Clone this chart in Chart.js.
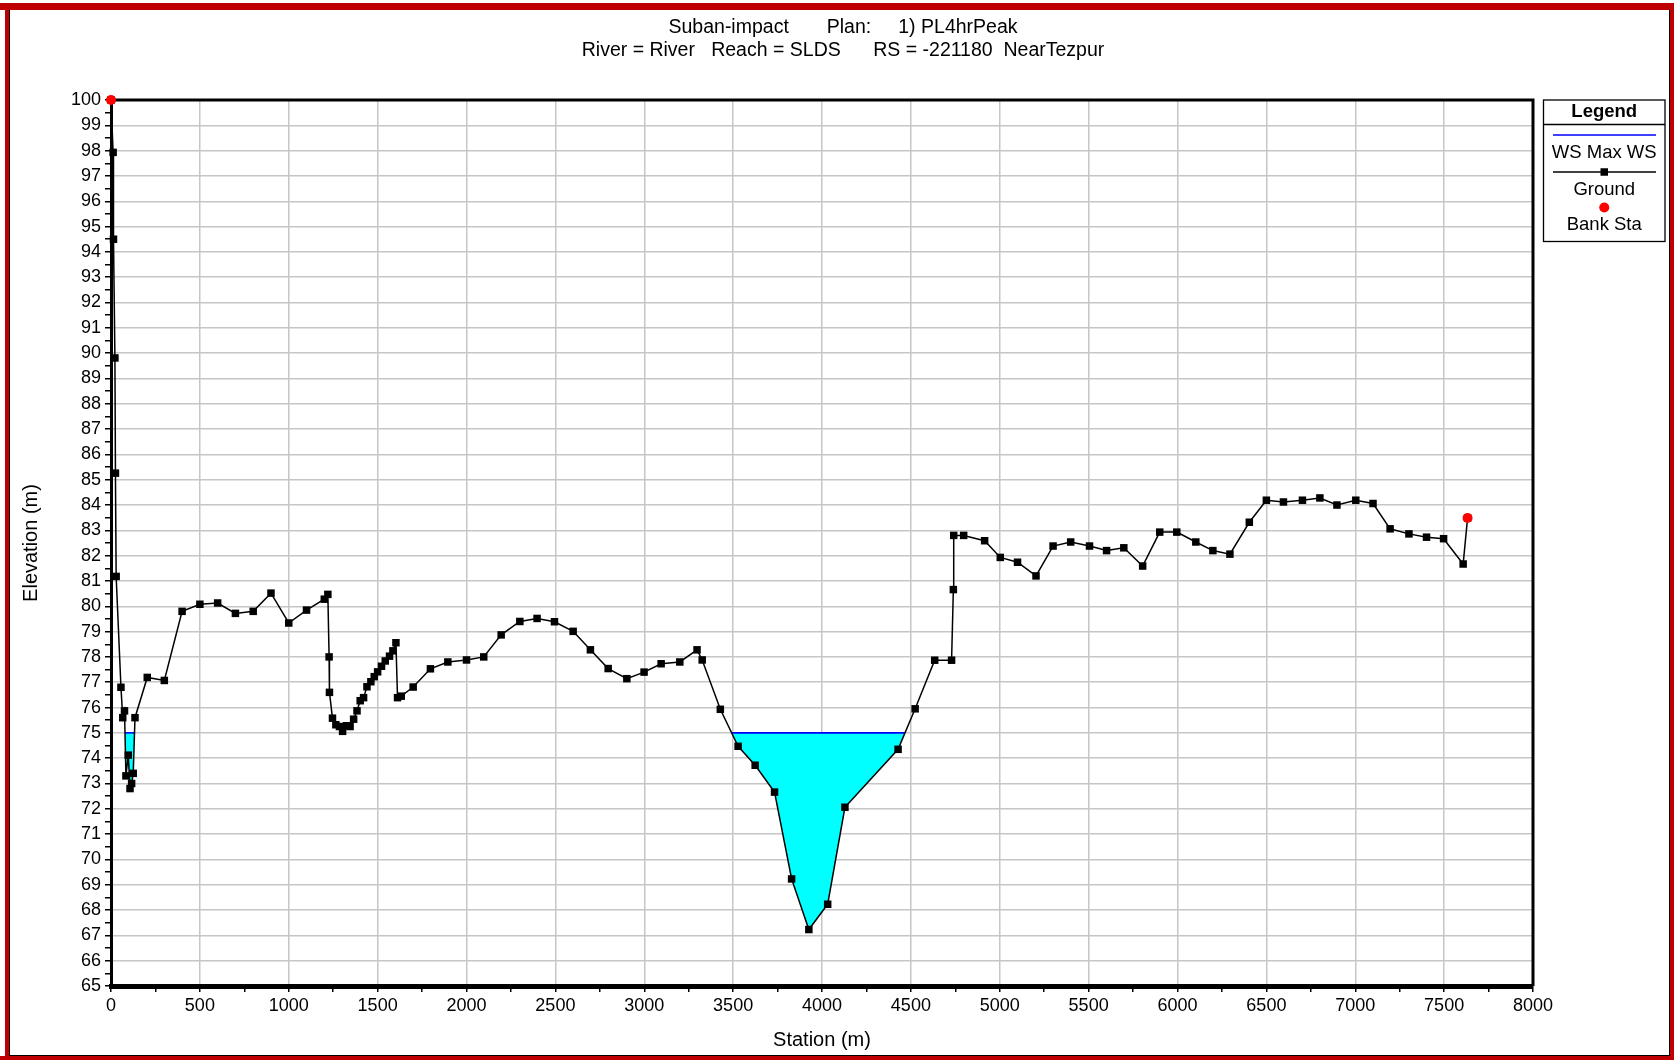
<!DOCTYPE html>
<html>
<head>
<meta charset="utf-8">
<script src="https://cdn.jsdelivr.net/npm/chart.js@4.4.0/dist/chart.umd.min.js"></script>
<style>
html,body{margin:0;padding:0;background:#fff;overflow:hidden}
canvas{display:block}
</style>
</head>
<body>
<canvas id="c" width="1674" height="1060"></canvas>
<script>
// ---------------- DATA ----------------
const titleLines = [
  'Suban-impact       Plan:     1) PL4hrPeak',
  'River = River   Reach = SLDS      RS = -221180  NearTezpur'
];
const xAxisTitle = 'Station (m)';
const yAxisTitle = 'Elevation (m)';
const legendTitle = 'Legend';
const legendLabels = ['WS Max WS', 'Ground', 'Bank Sta'];

const groundStations = [
  0, 12, 14, 22, 25, 29, 56, 66, 76, 84, 97, 107, 116, 125, 135, 204, 300, 400, 500, 600,
  700, 800, 900, 1000, 1100, 1200, 1220, 1227, 1229, 1246, 1265, 1285, 1303, 1325, 1345, 1365,
  1384, 1402, 1421, 1440, 1462, 1481, 1500, 1522, 1543, 1567, 1586, 1603, 1612, 1633, 1700,
  1797, 1895, 2000, 2097, 2195, 2300, 2397, 2495, 2600, 2697, 2797, 2902, 2999, 3095, 3200,
  3297, 3326, 3428, 3528, 3624, 3733, 3829, 3926, 4032, 4129, 4428, 4524, 4634, 4729, 4739,
  4741, 4797, 4915, 5003, 5100, 5204, 5300, 5399, 5505, 5601, 5698, 5804, 5900, 5996, 6103,
  6199, 6295, 6404, 6500, 6596, 6703, 6801, 6897, 7003, 7100, 7196, 7302, 7401, 7497, 7607, 7632
];
const groundElevations = [
  100, 97.93, 94.5, 89.81, 85.26, 81.18, 76.8, 75.6, 75.87, 73.3, 74.12, 72.8, 73.0, 73.4, 75.6, 77.19, 77.07, 79.8, 80.08, 80.13,
  79.72, 79.8, 80.52, 79.34, 79.85, 80.28, 80.47, 78.0, 76.6, 75.58, 75.32, 75.25, 75.06, 75.28, 75.25, 75.54,
  75.87, 76.27, 76.39, 76.82, 77.02, 77.22, 77.41, 77.63, 77.84, 78.03, 78.24, 78.56, 76.39, 76.45, 76.81,
  77.53, 77.8, 77.88, 78.0, 78.87, 79.4, 79.52, 79.39, 79.01, 78.28, 77.54, 77.14, 77.4, 77.73, 77.8,
  78.28, 77.88, 75.93, 74.47, 73.72, 72.66, 69.23, 67.23, 68.23, 72.06, 74.35, 75.95, 77.87, 77.87, 80.66,
  82.8, 82.8, 82.59, 81.93, 81.74, 81.2, 82.38, 82.54, 82.38, 82.2, 82.31, 81.59, 82.93, 82.93, 82.54,
  82.2, 82.06, 83.32, 84.19, 84.12, 84.19, 84.28, 84.0, 84.19, 84.06, 83.06, 82.86, 82.73, 82.67, 81.67, 83.49
];
const bankStations = [0, 7632];
const bankElevations = [100, 83.49];
const wsMaxElevation = 75.0;

const xMin = 0, xMax = 8000, xMajorStep = 500, xMinorStep = 250;
const yMin = 65, yMax = 100, yMajorStep = 1, yMinorStep = 0.5;

// ---------------- BUILD ----------------
const FONT = "'Liberation Sans', Arial, Helvetica, sans-serif";
Chart.defaults.font.family = FONT;
Chart.defaults.color = '#000';

const groundPts = groundStations.map((s, i) => ({x: s, y: groundElevations[i]}));
const bankPts = bankStations.map((s, i) => ({x: s, y: bankElevations[i]}));

function waterRegions(st, el, ws) {
  const regions = [];
  let cur = null;
  for (let i = 0; i < st.length; i++) {
    const below = el[i] < ws;
    if (below && !cur && i > 0) {
      const t = (el[i - 1] - ws) / (el[i - 1] - el[i]);
      cur = [{x: st[i - 1] + t * (st[i] - st[i - 1]), y: ws}];
    }
    if (below && cur) cur.push({x: st[i], y: el[i]});
    if (!below && cur) {
      const t = (ws - el[i - 1]) / (el[i] - el[i - 1]);
      cur.push({x: st[i - 1] + t * (st[i] - st[i - 1]), y: ws});
      regions.push(cur);
      cur = null;
    }
  }
  return regions;
}
const regions = waterRegions(groundStations, groundElevations, wsMaxElevation);

const datasets = [
  {label: 'Bank Sta', data: bankPts, showLine: false, pointStyle: 'circle', pointRadius: 5,
   pointBackgroundColor: '#ff0000', pointBorderColor: '#ff0000', pointBorderWidth: 0, clip: false},
  {label: 'Ground', data: groundPts, showLine: true, borderColor: '#000', borderWidth: 1.5,
   pointStyle: 'rect', pointRadius: 5.3, pointBackgroundColor: '#000', pointBorderWidth: 0,
   fill: false, tension: 0, clip: false},
  ...regions.map(r => ({label: 'WS Max WS', data: [r[0], r[r.length - 1]], showLine: true,
   borderColor: '#0000ff', borderWidth: 1.6, pointRadius: 0, fill: false})),
  ...regions.map(r => ({label: 'water', data: r, showLine: true, borderColor: 'rgba(0,0,0,0)',
   borderWidth: 0, backgroundColor: '#00ffff', fill: 'shape', pointRadius: 0}))
];

const isMult = (v, step) => Math.abs(v / step - Math.round(v / step)) < 1e-9;

const decorPlugin = {
  id: 'decor',
  beforeDraw(chart) {
    const ctx = chart.ctx;
    ctx.save();
    ctx.fillStyle = '#fff';
    ctx.fillRect(0, 0, chart.width, chart.height);
    ctx.restore();
  },
  beforeDatasetsDraw(chart) {
    const {ctx, chartArea: a} = chart;
    ctx.save();
    ctx.strokeStyle = '#000';
    ctx.lineWidth = 3;
    ctx.beginPath();
    ctx.moveTo(a.left, a.top);
    ctx.lineTo(a.right, a.top);
    ctx.lineTo(a.right, a.bottom);
    ctx.stroke();
    ctx.restore();
  },
  afterDraw(chart) {
    const ctx = chart.ctx;
    ctx.save();
    // titles
    ctx.fillStyle = '#000';
    ctx.textAlign = 'center';
    ctx.textBaseline = 'middle';
    ctx.font = '19.5px ' + FONT;
    ctx.fillText(titleLines[0], 843, 27.5);
    ctx.fillText(titleLines[1], 843, 51);

    // legend box
    const L = 1543.5, R = 1665, T = 100, B = 241.5, cx = (L + R) / 2;
    ctx.strokeStyle = '#000';
    ctx.lineWidth = 1.3;
    ctx.strokeRect(L, T, R - L, B - T);
    ctx.beginPath();
    ctx.moveTo(L, 124.5); ctx.lineTo(R, 124.5); ctx.stroke();
    ctx.font = 'bold 18.5px ' + FONT;
    ctx.fillText(legendTitle, cx, 112);
    ctx.font = '18.5px ' + FONT;
    // WS
    ctx.strokeStyle = '#0000ff'; ctx.lineWidth = 1.6;
    ctx.beginPath(); ctx.moveTo(1553, 135); ctx.lineTo(1656, 135); ctx.stroke();
    ctx.fillText(legendLabels[0], cx, 153);
    // Ground
    ctx.strokeStyle = '#000'; ctx.lineWidth = 1.5;
    ctx.beginPath(); ctx.moveTo(1553, 172); ctx.lineTo(1656, 172); ctx.stroke();
    ctx.fillRect(cx - 3.75, 168.25, 7.5, 7.5);
    ctx.fillText(legendLabels[1], cx, 189.5);
    // Bank sta
    ctx.fillStyle = '#ff0000';
    ctx.beginPath(); ctx.arc(cx, 207.5, 5, 0, Math.PI * 2); ctx.fill();
    ctx.fillStyle = '#000';
    ctx.fillText(legendLabels[2], cx, 225);

    // outer frame (red with thin black inner line)
    ctx.fillStyle = '#c00000';
    ctx.fillRect(0, 3, chart.width, 7);
    ctx.fillRect(5, 3, 4, chart.height);
    ctx.fillRect(1670, 3, 4, chart.height);
    ctx.fillRect(0, 1056, chart.width, 4);
    ctx.fillStyle = '#000';
    ctx.fillRect(9, 10, 1, 1046);
    ctx.fillRect(1669, 10, 1, 1046);
    ctx.fillRect(9, 1055, 1661, 1);
    ctx.restore();
  }
};

new Chart(document.getElementById('c'), {
  type: 'line',
  data: {datasets},
  plugins: [decorPlugin],
  options: {
    responsive: false,
    animation: false,
    devicePixelRatio: 1,
    events: [],
    layout: {padding: {top: 100, right: 141, bottom: 0, left: 0}},
    plugins: {legend: {display: false}, tooltip: {enabled: false}, title: {display: false}},
    scales: {
      x: {
        type: 'linear', min: xMin, max: xMax,
        ticks: {stepSize: xMinorStep, autoSkip: false, maxRotation: 0, color: '#000',
          font: {size: 18}, padding: 3,
          callback: v => isMult(v, xMajorStep) ? String(v) : ''},
        grid: {
          color: c => (c.tick && isMult(c.tick.value, xMajorStep) && c.tick.value > xMin && c.tick.value < xMax) ? '#c6c6c6' : 'rgba(0,0,0,0)',
          lineWidth: 1.5, drawTicks: true, tickLength: 6, tickColor: '#000', tickWidth: 1.5
        },
        border: {display: true, color: '#000', width: 5},
        title: {display: true, text: xAxisTitle, color: '#000', font: {size: 20}, padding: {top: 0, bottom: 8}},
        afterFit: s => { s.height = 74; }
      },
      y: {
        type: 'linear', min: yMin, max: yMax,
        ticks: {stepSize: yMinorStep, autoSkip: false, color: '#000', font: {size: 18}, padding: 4,
          callback: v => isMult(v, yMajorStep) ? String(v) : ''},
        grid: {
          color: c => (c.tick && isMult(c.tick.value, yMajorStep) && c.tick.value > yMin && c.tick.value < yMax) ? '#c6c6c6' : 'rgba(0,0,0,0)',
          lineWidth: 1.5, drawTicks: true, tickLength: 6, tickColor: '#000', tickWidth: 1.5
        },
        border: {display: true, color: '#000', width: 3},
        title: {display: true, text: yAxisTitle, color: '#000', font: {size: 20}, padding: {top: 19, bottom: 0}},
        afterFit: s => { s.width = 111; }
      }
    }
  }
});
</script>
</body>
</html>
